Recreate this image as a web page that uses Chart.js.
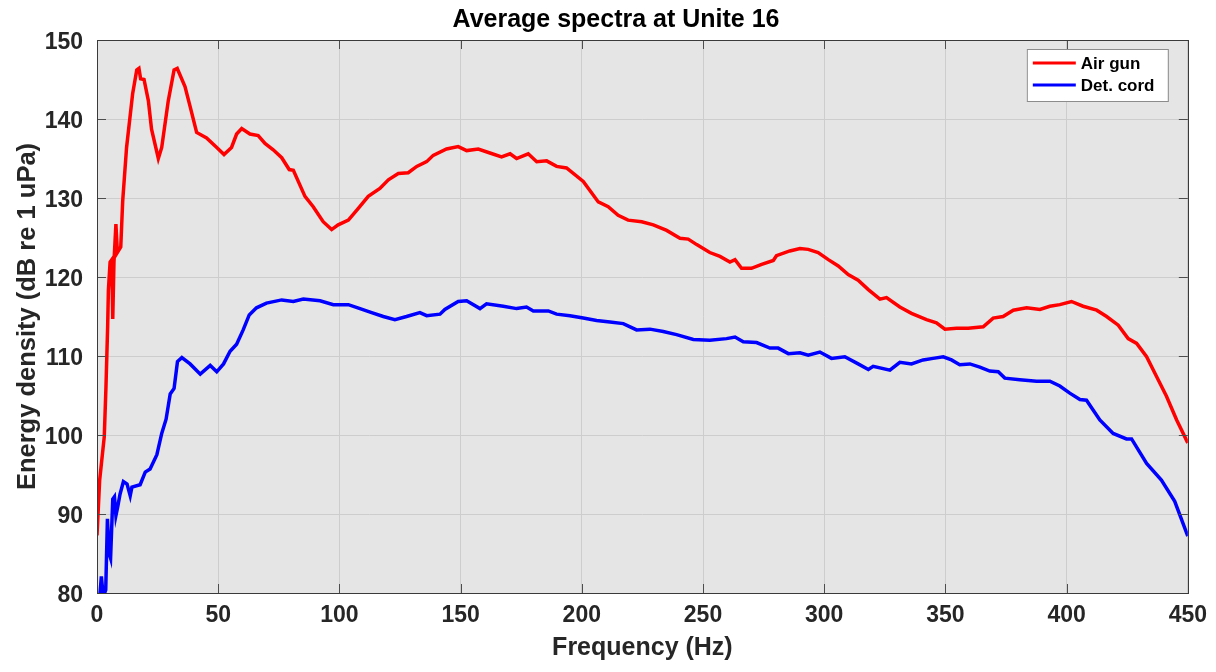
<!DOCTYPE html>
<html>
<head>
<meta charset="utf-8">
<script src="https://cdn.jsdelivr.net/npm/chart.js@4.4.1/dist/chart.umd.min.js"></script>
<style>
  html, body { margin: 0; padding: 0; background: #ffffff; }
  #wrap { width: 1216px; height: 672px; }
</style>
</head>
<body>
<div id="wrap"><canvas id="spectra" width="1216" height="672"></canvas></div>
<script>
// Values
const xTicks = [0, 50, 100, 150, 200, 250, 300, 350, 400, 450];
const yTicks = [80, 90, 100, 110, 120, 130, 140, 150];

const airGunHz = [0, 1.1, 3.0, 3.7, 4.4, 4.7, 5.4, 6.1, 6.5, 7.0, 7.8, 8.4, 9.8, 10.6, 12.2, 14.7, 16.4, 17.3, 18.0, 19.4,
  21.2, 22.5, 25.3, 26.7, 29.4, 31.8, 33.1, 36.3, 38.4, 41.1, 45.2, 49.4, 52.4, 55.5, 57.6, 59.7, 63.1, 66.5, 69.3, 72.7,
  76.2, 79.3, 81.0, 85.8, 89.2, 93.3, 96.8, 99.5, 103.7, 107.8, 111.9, 116.7, 120.2, 124.3, 128.4, 131.9, 136.0, 138.7, 144.2, 149.0,
  152.5, 157.3, 162.1, 166.9, 170.4, 173.1, 177.9, 181.4, 185.5, 189.6, 193.7, 200.6, 206.8, 210.9, 215.0, 219.1, 224.7, 229.5, 235.0, 240.5,
  243.9, 247.4, 252.8, 257.0, 261.1, 263.2, 265.9, 270.0, 274.2, 279.0, 280.3, 285.8, 290.0, 293.4, 297.5, 301.7, 305.8, 309.9, 314.0, 318.2,
  323.0, 325.7, 331.2, 336.0, 342.2, 346.3, 349.8, 354.6, 359.4, 365.6, 369.7, 373.8, 378.0, 383.5, 389.0, 393.1, 397.2, 402.0, 406.8, 412.4,
  416.5, 421.3, 425.4, 428.9, 433.0, 437.1, 441.2, 445.4, 450];
const airGunDb = [87.3, 94.3, 99.8, 106.1, 113.8, 118.3, 121.9, 122.2, 114.7, 121.9, 126.7, 123.1, 123.8, 129.6, 136.4, 143.2, 146.2, 146.4, 145.1, 145.0,
  142.3, 138.7, 135.0, 136.4, 142.3, 146.2, 146.4, 144.1, 141.6, 138.3, 137.6, 136.4, 135.5, 136.4, 138.1, 138.8, 138.1, 137.9, 136.9, 136.1,
  135.1, 133.6, 133.5, 130.2, 128.9, 127.0, 126.0, 126.6, 127.2, 128.7, 130.2, 131.2, 132.3, 133.1, 133.2, 134.0, 134.6, 135.4, 136.2, 136.5,
  136.0, 136.2, 135.7, 135.2, 135.6, 135.0, 135.6, 134.6, 134.7, 134.0, 133.8, 132.1, 129.5, 128.9, 127.8, 127.2, 127.0, 126.6, 125.9, 124.9,
  124.8, 124.1, 123.1, 122.6, 121.9, 122.2, 121.1, 121.1, 121.6, 122.1, 122.7, 123.3, 123.6, 123.5, 123.1, 122.2, 121.4, 120.3, 119.6, 118.4,
  117.2, 117.4, 116.2, 115.4, 114.6, 114.2, 113.4, 113.5, 113.5, 113.7, 114.8, 115.0, 115.8, 116.1, 115.9, 116.3, 116.5, 116.9, 116.3, 115.8,
  115.0, 113.9, 112.2, 111.6, 109.9, 107.4, 104.9, 101.9, 99.0];

const detCordHz = [1.0, 1.8, 2.6, 3.6, 4.3, 5.0, 5.6, 6.5, 7.2, 7.8, 8.6, 9.5, 10.9, 12.4, 13.7, 14.4, 17.8, 19.9, 21.9, 24.7,
  26.7, 28.5, 30.2, 31.8, 33.2, 35.0, 38.4, 42.6, 46.7, 49.4, 52.2, 54.9, 57.6, 60.3, 62.8, 65.8, 69.9, 76.2, 81.0, 85.1,
  92.0, 97.5, 103.7, 108.5, 113.3, 118.1, 122.9, 127.7, 133.2, 136.0, 141.5, 143.5, 149.0, 152.5, 158.0, 160.7, 167.6, 173.1, 177.2, 180.0,
  186.2, 189.6, 195.1, 200.6, 206.1, 211.6, 217.1, 222.6, 228.1, 233.6, 239.1, 246.0, 252.8, 259.7, 263.2, 266.6, 272.1, 277.6, 281.0, 285.2,
  290.0, 293.4, 298.2, 303.0, 308.5, 314.0, 318.2, 320.2, 327.1, 331.2, 336.0, 340.8, 344.9, 349.1, 352.5, 355.9, 360.1, 364.2, 368.3, 371.8,
  374.5, 380.7, 387.6, 393.1, 397.2, 401.3, 405.5, 408.2, 413.7, 419.2, 424.7, 426.8, 433.0, 439.1, 444.6, 450];
const detCordDb = [79.0, 82.1, 79.5, 80.4, 89.4, 85.0, 84.4, 91.9, 92.2, 89.8, 91.0, 92.5, 94.1, 93.8, 92.3, 93.4, 93.7, 95.3, 95.7, 97.5,
  100.2, 102.0, 105.2, 105.9, 109.3, 109.8, 109.0, 107.7, 108.8, 108.0, 109.0, 110.6, 111.5, 113.3, 115.2, 116.1, 116.7, 117.1, 116.9, 117.2,
  117.0, 116.5, 116.5, 116.0, 115.5, 115.0, 114.6, 115.0, 115.5, 115.1, 115.3, 115.9, 116.9, 117.0, 116.0, 116.6, 116.3, 116.0, 116.2, 115.7,
  115.7, 115.3, 115.1, 114.8, 114.5, 114.3, 114.1, 113.3, 113.4, 113.1, 112.7, 112.1, 112.0, 112.2, 112.4, 111.8, 111.7, 111.0, 111.0, 110.3,
  110.4, 110.1, 110.5, 109.7, 109.9, 109.0, 108.3, 108.7, 108.2, 109.2, 109.0, 109.5, 109.7, 109.9, 109.5, 108.9, 109.0, 108.6, 108.1, 108.0,
  107.2, 107.0, 106.8, 106.8, 106.2, 105.3, 104.5, 104.4, 101.9, 100.2, 99.5, 99.5, 96.4, 94.3, 91.6, 87.2];

const titleText = 'Average spectra at Unite 16';
const FONT = "'Liberation Sans', Arial, Helvetica, sans-serif";
const AXIS_COLOR = '#262626';

function toPoints(xs, ys) {
    return xs.map((x, i) => ({ x: x, y: ys[i] }));
}

// grey plot background, like a MATLAB axes
const plotBackground = {
    id: 'plotBackground',
    beforeDraw(chart) {
        const { ctx, chartArea: a } = chart;
        ctx.save();
        ctx.fillStyle = '#e5e5e5';
        ctx.fillRect(a.left, a.top, a.right - a.left, a.bottom - a.top);
        ctx.restore();
    }
};

// title sits a little left of the axes centre in the original
const plotTitle = {
    id: 'plotTitle',
    afterDraw(chart) {
        const { ctx } = chart;
        ctx.save();
        ctx.font = 'bold 25px ' + FONT;
        ctx.fillStyle = '#000000';
        ctx.textAlign = 'center';
        ctx.textBaseline = 'middle';
        ctx.fillText(titleText, 616, 20);
        ctx.restore();
    }
};

// box around the axes and inward tick marks on all four sides
const axesBox = {
    id: 'axesBox',
    afterDatasetsDraw(chart) {
        const { ctx, chartArea: a, scales } = chart;
        const len = 9;
        ctx.save();
        ctx.strokeStyle = '#4d4d4d';
        ctx.lineWidth = 1;
        ctx.beginPath();
        scales.x.ticks.forEach(t => {
            const px = Math.round(scales.x.getPixelForValue(t.value)) + 0.5;
            ctx.moveTo(px, a.bottom); ctx.lineTo(px, a.bottom - len);
            ctx.moveTo(px, a.top); ctx.lineTo(px, a.top + len);
        });
        scales.y.ticks.forEach(t => {
            const py = Math.round(scales.y.getPixelForValue(t.value)) + 0.5;
            ctx.moveTo(a.left, py); ctx.lineTo(a.left + len, py);
            ctx.moveTo(a.right, py); ctx.lineTo(a.right - len, py);
        });
        ctx.stroke();
        ctx.strokeStyle = '#3a3a3a';
        ctx.strokeRect(Math.round(a.left) + 0.5, Math.round(a.top) + 0.5,
            Math.round(a.right - a.left), Math.round(a.bottom - a.top));
        ctx.restore();
    }
};

// MATLAB-style legend box in the top-right corner of the axes
const boxLegend = {
    id: 'boxLegend',
    afterDraw(chart) {
        const { ctx, chartArea: a } = chart;
        const sets = chart.data.datasets;
        const w = 141, rowH = 22;
        const h = sets.length * rowH + 8;
        const x0 = a.right - 161, y0 = a.top + 9;
        ctx.save();
        ctx.fillStyle = '#ffffff';
        ctx.fillRect(x0, y0, w, h);
        ctx.strokeStyle = '#8c8c8c';
        ctx.lineWidth = 1;
        ctx.strokeRect(x0 + 0.5, y0 + 0.5, w, h);
        ctx.font = 'bold 17px ' + FONT;
        ctx.textBaseline = 'middle';
        ctx.fillStyle = '#000000';
        sets.forEach((ds, i) => {
            const cy = y0 + 14 + i * rowH;
            ctx.strokeStyle = ds.borderColor;
            ctx.lineWidth = 3;
            ctx.beginPath();
            ctx.moveTo(x0 + 6, cy);
            ctx.lineTo(x0 + 49, cy);
            ctx.stroke();
            ctx.fillText(ds.label, x0 + 54, cy + 1);
        });
        ctx.restore();
    }
};

new Chart(document.getElementById('spectra').getContext('2d'), {
    type: 'line',
    data: {
        datasets: [
            {
                label: 'Air gun',
                data: toPoints(airGunHz, airGunDb),
                borderColor: '#ff0000',
                borderWidth: 3.5,
                pointRadius: 0,
                tension: 0
            },
            {
                label: 'Det. cord',
                data: toPoints(detCordHz, detCordDb),
                borderColor: '#0000ff',
                borderWidth: 3.5,
                pointRadius: 0,
                tension: 0
            }
        ]
    },
    options: {
        responsive: false,
        animation: false,
        events: [],
        layout: { padding: { left: 0, right: 28, top: 40, bottom: 0 } },
        plugins: {
            legend: { display: false },
            tooltip: { enabled: false },
            title: { display: false }
        },
        scales: {
            x: {
                type: 'linear',
                min: 0,
                max: 450,
                afterBuildTicks: s => { s.ticks = xTicks.map(v => ({ value: v })); },
                afterFit: s => { s.height = 79; },
                grid: { color: '#cdcdcd', lineWidth: 1, drawTicks: false },
                border: { display: false },
                ticks: {
                    padding: 9,
                    maxRotation: 0,
                    color: AXIS_COLOR,
                    font: { family: FONT, size: 23, weight: 'bold' }
                },
                title: {
                    display: true,
                    text: 'Frequency (Hz)',
                    color: AXIS_COLOR,
                    font: { family: FONT, size: 25, weight: 'bold' },
                    padding: { top: 0, bottom: 9 }
                }
            },
            y: {
                type: 'linear',
                min: 80,
                max: 150,
                afterBuildTicks: s => { s.ticks = yTicks.map(v => ({ value: v })); },
                afterFit: s => { s.width = 97; },
                grid: { color: '#cdcdcd', lineWidth: 1, drawTicks: false },
                border: { display: false },
                ticks: {
                    padding: 14,
                    labelOffset: 3,
                    color: AXIS_COLOR,
                    font: { family: FONT, size: 23, weight: 'bold' }
                },
                title: {
                    display: true,
                    text: 'Energy density (dB re 1 uPa)',
                    color: AXIS_COLOR,
                    font: { family: FONT, size: 25.5, weight: 'bold' },
                    padding: { top: 13, bottom: 0 }
                }
            }
        }
    },
    plugins: [plotBackground, axesBox, boxLegend, plotTitle]
});
</script>
</body>
</html>
